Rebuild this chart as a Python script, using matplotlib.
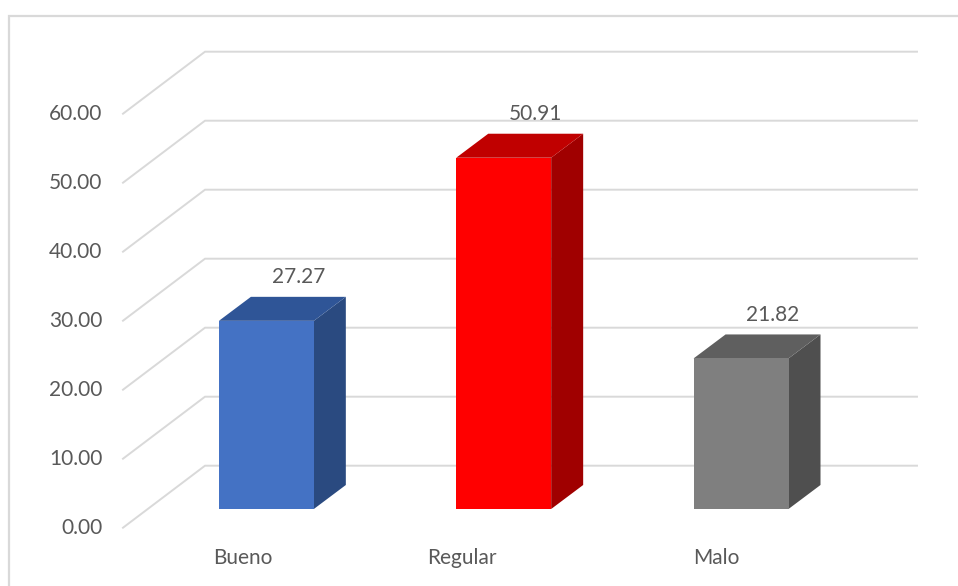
# coding=utf-8

import matplotlib.pyplot as plt
from matplotlib.patches import Rectangle, Polygon

# datos del grafico
categorias = ['Bueno', 'Regular', 'Malo']
valores = [27.27, 50.91, 21.82]
ticks_y = [0, 10, 20, 30, 40, 50, 60]

# colores: frente, tapa, lateral
col_frente = ['#4472C4', '#FF0000', '#7F7F7F']
col_tapa = ['#2F5597', '#C00000', '#5F5F5F']
col_lado = ['#2A4A80', '#A00000', '#4F4F4F']
texto = '#595959'
rejilla = '#D9D9D9'

plt.rcParams['font.family'] = ['Lato', 'DejaVu Sans']

W, H = 958, 586
fig = plt.figure(figsize=(W / 100, H / 100), dpi=100)

# plano frontal de las barras (pixeles)
x_izq, x_der, y_cero, y_top = 147.7, 859.7, 509, 95
ax = fig.add_axes([x_izq / W, (H - y_cero) / H,
                   (x_der - x_izq) / W, (y_cero - y_top) / H])
ax.set_xlim(-0.5, 2.5)
ax.set_ylim(0, 60)
ax.axis('off')

sx = (x_der - x_izq) / 3.0
sy = (y_cero - y_top) / 60.0


def prof(dx, dy):
    # desplazamiento en pixeles -> unidades de datos
    return dx / sx, dy / sy


bdx, bdy = prof(32, 24)        # profundidad de la barra
wdx, wdy = prof(57.3, 43.3)    # pared del fondo
fdx, fdy = prof(-24.7, -18.7)  # borde frontal del piso

# lineas de division (pared lateral + fondo)
for v in ticks_y:
    ax.plot([-0.5 + fdx, -0.5 + wdx, 2.5 + wdx],
            [v + fdy, v + wdy, v + wdy],
            color=rejilla, lw=1.4, clip_on=False, zorder=1)
    ax.annotate('%.2f' % v, (-0.5 + fdx, v + fdy), xytext=(-15, 0),
                textcoords='offset points', ha='right', va='center',
                fontsize=15, color=texto, annotation_clip=False)

# barras 3D
ancho = 0.4
for i, v in enumerate(valores):
    x0, x1 = i - ancho / 2, i + ancho / 2
    ax.add_patch(Polygon([(x1, 0), (x1 + bdx, bdy), (x1 + bdx, v + bdy), (x1, v)],
                         closed=True, fc=col_lado[i], ec='none', zorder=3,
                         clip_on=False))
    ax.add_patch(Polygon([(x0, v), (x1, v), (x1 + bdx, v + bdy), (x0 + bdx, v + bdy)],
                         closed=True, fc=col_tapa[i], ec='none', zorder=3,
                         clip_on=False))
    ax.add_patch(Rectangle((x0, 0), ancho, v, fc=col_frente[i], ec='none',
                           zorder=4, clip_on=False))
    ax.annotate('%.2f' % v, (i + bdx, v + bdy), xytext=(0, 14),
                textcoords='offset points', ha='center', va='center',
                fontsize=15, color=texto, annotation_clip=False)

# etiquetas de categoria
ajuste = [1, -17, 0]
for i, c in enumerate(categorias):
    ax.annotate(c, (i + fdx, fdy), xytext=(ajuste[i] * 0.72, -22),
                textcoords='offset points', ha='center', va='center',
                fontsize=15, color=texto, annotation_clip=False)

# borde del area del grafico
fig.patches.append(Rectangle((9 / W, -0.1), 1.2, (H - 16) / H + 0.1,
                             transform=fig.transFigure, fill=False,
                             ec=rejilla, lw=1.6))

plt.savefig('out.png', dpi=100)
